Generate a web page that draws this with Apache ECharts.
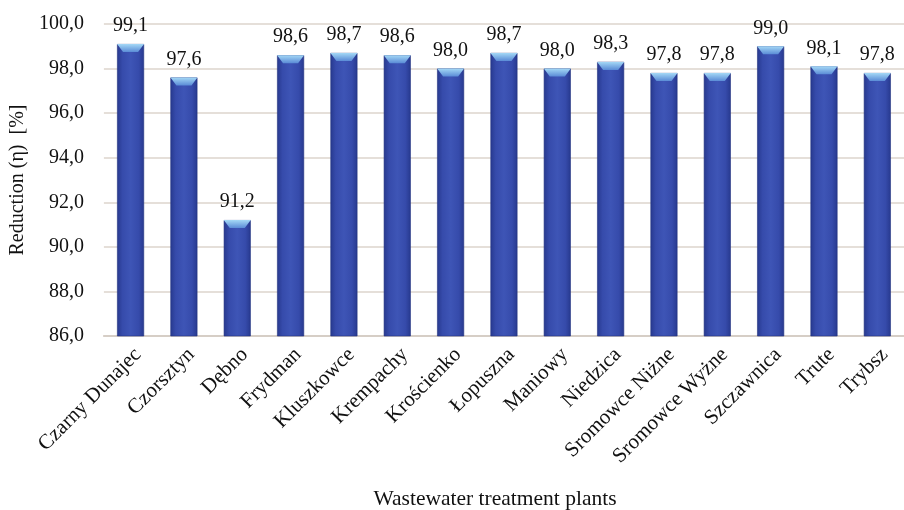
<!DOCTYPE html>
<html>
<head>
<meta charset="utf-8">
<script src="https://cdn.jsdelivr.net/npm/echarts@6/dist/echarts.min.js"></script>
<style>
  html, body { margin: 0; padding: 0; background: #fff; }
  #chart { width: 904px; height: 510px; }
</style>
</head>
<body>
<div id="chart"></div>
<script>
// dane z wykresu
var plants = ["Czarny Dunajec", "Czorsztyn", "Dębno", "Frydman", "Kluszkowce", "Krempachy",
  "Krościenko", "Łopuszna", "Maniowy", "Niedzica", "Sromowce Niżne", "Sromowce Wyżne",
  "Szczawnica", "Trute", "Trybsz"];
var reduction = [99.1, 97.6, 91.2, 98.6, 98.7, 98.6, 98.0, 98.7, 98.0, 98.3, 97.8, 97.8, 99.0, 98.1, 97.8];
var yTicks = [86, 88, 90, 92, 94, 96, 98, 100];

var font = "Liberation Serif";
var comma = function (v) { return Number(v).toFixed(1).replace(".", ","); };

var chart = echarts.init(document.getElementById("chart"));

var barColor = new echarts.graphic.LinearGradient(0, 0, 1, 0, [
  { offset: 0, color: "#27398e" },
  { offset: 0.2, color: "#364bab" },
  { offset: 0.5, color: "#3e55b6" },
  { offset: 0.8, color: "#364bab" },
  { offset: 1, color: "#27398e" }
]);
var capColor = new echarts.graphic.LinearGradient(0, 0, 0, 1, [
  { offset: 0, color: "#a4d8f6" },
  { offset: 1, color: "#5a8bd6" }
]);

var option = {
  backgroundColor: "#fff",
  animation: false,
  textStyle: { fontFamily: font },
  grid: { left: 103, right: -6, top: 24, bottom: 174 },
  xAxis: {
    type: "category",
    data: plants,
    axisLine: { lineStyle: { color: "#d6cec6", width: 2 } },
    axisTick: { show: false },
    axisLabel: {
      rotate: 45,
      margin: 8,
      interval: 0,
      verticalAlign: "top",
      color: "#111",
      fontFamily: font,
      fontSize: 21
    }
  },
  yAxis: {
    type: "value",
    min: yTicks[0],
    max: yTicks[yTicks.length - 1],
    interval: 2,
    name: "Reduction (η)  [%]",
    nameLocation: "middle",
    nameGap: 67,
    nameTextStyle: { color: "#111", fontFamily: font, fontSize: 20 },
    axisLine: { show: false },
    axisTick: { show: false },
    axisLabel: {
      margin: 20,
      color: "#111",
      fontFamily: font,
      fontSize: 20,
      formatter: comma
    },
    splitLine: { lineStyle: { color: "#dcd4cc", width: 1.5 } }
  },
  graphic: [{
    type: "text",
    x: 495,
    y: 499,
    style: {
      text: "Wastewater treatment plants",
      fontFamily: font,
      fontSize: 21.5,
      fill: "#111",
      textAlign: "center",
      textVerticalAlign: "middle"
    }
  }],
  series: [
    {
      type: "bar",
      data: reduction,
      barWidth: 27,
      itemStyle: { color: barColor, borderColor: "#22337f", borderWidth: 0.6 },
      label: {
        show: true,
        position: "top",
        distance: 8,
        color: "#111",
        fontFamily: font,
        fontSize: 20,
        formatter: function (p) { return comma(p.value); }
      }
    },
    {
      // jasna "czapka" na górze słupka
      type: "custom",
      data: reduction.map(function (v, i) { return [i, v]; }),
      z: 3,
      renderItem: function (params, api) {
        var p = api.coord([api.value(0), api.value(1)]);
        var w = 27, h = 8, inset = 6;
        return {
          type: "polygon",
          shape: {
            points: [
              [p[0] - w / 2, p[1]],
              [p[0] + w / 2, p[1]],
              [p[0] + w / 2 - inset, p[1] + h],
              [p[0] - w / 2 + inset, p[1] + h]
            ]
          },
          style: { fill: capColor }
        };
      }
    }
  ]
};

chart.setOption(option);
</script>
</body>
</html>
